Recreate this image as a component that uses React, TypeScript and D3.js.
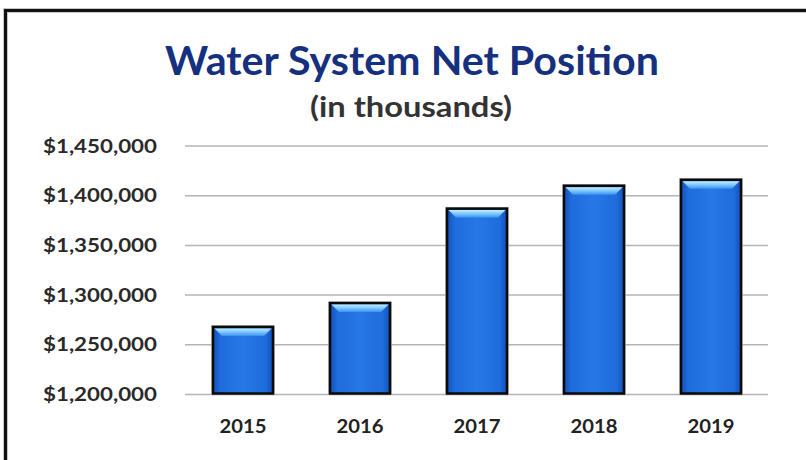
import React from "react";
import * as d3 from "d3";

const years = ["2015", "2016", "2017", "2018", "2019"];
const netPosition = [1268000, 1292000, 1387000, 1410000, 1416000];
const yTicks = [1200000, 1250000, 1300000, 1350000, 1400000, 1450000];
const titleText = "Water System Net Position";
const subtitleText = "(in thousands)";

export default function App() {
  const W = 806;
  const H = 460;
  const y = d3.scaleLinear().domain([1200000, 1450000]).range([394.5, 146]);
  const x = d3
    .scaleBand<string>()
    .domain(years)
    .range([184.5, 769.5])
    .paddingInner(0.487)
    .paddingOuter(0.2435);
  const fmt = (v: number) => "$" + d3.format(",")(v);
  const bw = x.bandwidth();
  const bevel = 9;
  const font = "Lato, 'Open Sans', sans-serif";

  return (
    <svg
      width={W}
      height={H}
      style={{ position: "absolute", left: 0, top: 0, background: "#fff" }}
    >
      <defs>
        <linearGradient id="barFill" x1="0" x2="1" y1="0" y2="0">
          <stop offset="0" stopColor="#124fb8" />
          <stop offset="0.12" stopColor="#1f6cdc" />
          <stop offset="0.5" stopColor="#2777e6" />
          <stop offset="0.88" stopColor="#1f6cdc" />
          <stop offset="1" stopColor="#124fb8" />
        </linearGradient>
        <linearGradient id="bevelFill" x1="0" x2="0" y1="0" y2="1">
          <stop offset="0" stopColor="#c4ecff" />
          <stop offset="0.45" stopColor="#7fcaff" />
          <stop offset="1" stopColor="#3d92f0" />
        </linearGradient>
      </defs>
      <rect x={0} y={0} width={W} height={H} fill="#fff" />
      {/* outer frame */}
      <path d={`M5.5,${H + 5} V10.5 H${W + 5}`} fill="none" stroke="#c8c8c8" strokeWidth={5} />
      <path d={`M5.5,${H + 5} V10.5 H${W + 5}`} fill="none" stroke="#111" strokeWidth={3} />

      {/* titles */}
      <text
        x={412}
        y={75}
        textAnchor="middle"
        fontFamily={font}
        fontWeight={700}
        fontSize={41}
        fill="#15307e"
        textLength={494}
        lengthAdjust="spacingAndGlyphs"
      >
        {titleText}
      </text>
      <text
        x={411}
        y={117}
        textAnchor="middle"
        fontFamily={font}
        fontWeight={700}
        fontSize={29}
        fill="#333"
        textLength={202}
        lengthAdjust="spacingAndGlyphs"
      >
        {subtitleText}
      </text>

      {/* gridlines and y labels */}
      {yTicks.map((t) => (
        <g key={t}>
          <line
            x1={185}
            x2={768}
            y1={y(t)}
            y2={y(t)}
            stroke="#b4b4b4"
            strokeWidth={1.5}
          />
          <text
            x={157}
            y={y(t) + 6.5}
            textAnchor="end"
            fontFamily={font}
            fontWeight={700}
            fontSize={18}
            fill="#2a2a2a"
            textLength={114}
            lengthAdjust="spacingAndGlyphs"
          >
            {fmt(t)}
          </text>
        </g>
      ))}

      {/* bars */}
      {years.map((yr, i) => {
        const bx = x(yr)!;
        const top = y(netPosition[i]);
        const bottom = y(1200000) - 1;
        return (
          <g key={yr}>
            <rect
              x={bx - 1}
              y={top - 1}
              width={bw + 2}
              height={bottom - top + 2}
              fill="none"
              stroke="#bdbdbd"
              strokeWidth={1.5}
            />
            <rect
              x={bx}
              y={top}
              width={bw}
              height={bottom - top}
              fill="url(#barFill)"
              stroke="#0a0a0a"
              strokeWidth={2.5}
            />
            <path
              d={`M${bx + 1.5},${top + 1.5} H${bx + bw - 1.5} L${bx + bw - bevel},${top + bevel} H${bx + bevel} Z`}
              fill="url(#bevelFill)"
            />
          </g>
        );
      })}

      {/* x labels */}
      {years.map((yr) => (
        <text
          key={yr}
          x={x(yr)! + bw / 2}
          y={433}
          textAnchor="middle"
          fontFamily={font}
          fontWeight={700}
          fontSize={18}
          fill="#222"
          textLength={47}
          lengthAdjust="spacingAndGlyphs"
        >
          {yr}
        </text>
      ))}
    </svg>
  );
}
